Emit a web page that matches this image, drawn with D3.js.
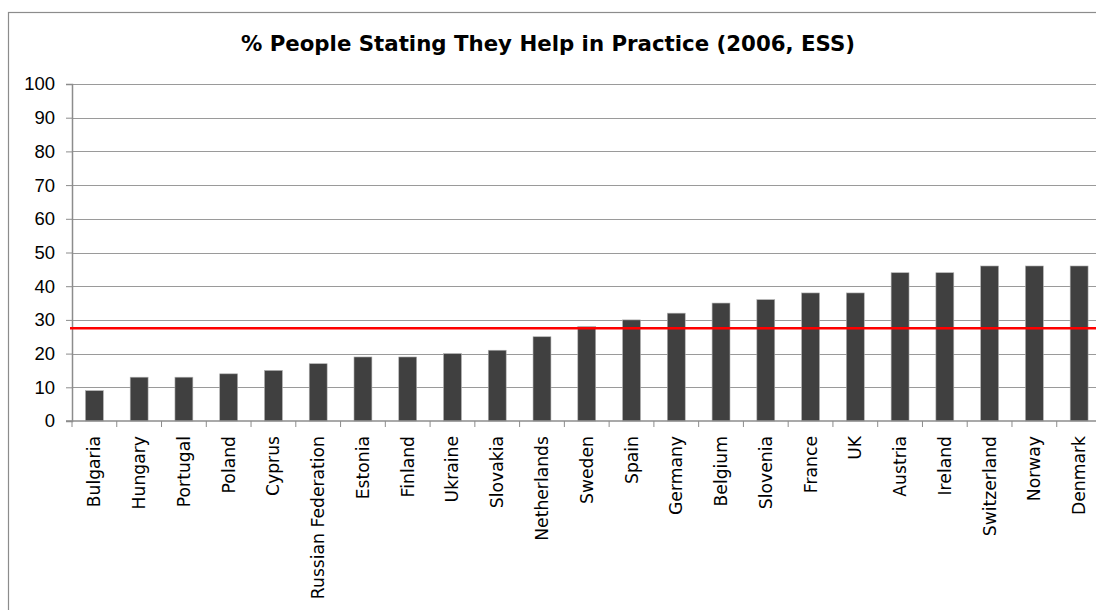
<!DOCTYPE html>
<html>
<head>
<meta charset="utf-8">
<script src="https://cdn.jsdelivr.net/npm/d3@7"></script>
<style>
  body { margin: 0; background: #fff; }
  svg { display: block; font-family: "DejaVu Sans", Verdana, sans-serif; }
</style>
</head>
<body>
<div id="chart_div"></div>
<script>
// data
const countries = ["Bulgaria", "Hungary", "Portugal", "Poland", "Cyprus", "Russian Federation",
    "Estonia", "Finland", "Ukraine", "Slovakia", "Netherlands", "Sweden", "Spain", "Germany",
    "Belgium", "Slovenia", "France", "UK", "Austria", "Ireland", "Switzerland", "Norway", "Denmark"];
const helpValues = [9, 13, 13, 14, 15, 17, 19, 19, 20, 21, 25, 28, 30, 32, 35, 36, 38, 38, 44, 44, 46, 46, 46];
const yTicks = [0, 10, 20, 30, 40, 50, 60, 70, 80, 90, 100];
const averageValue = 27.5;
const chartTitle = "% People Stating They Help in Practice (2006, ESS)";

const width = 1096, height = 610;
const margin = {top: 84, left: 72, right: -5.5, bottom: 189};
const plotW = width - margin.left - margin.right;
const plotH = height - margin.top - margin.bottom;

var svg = d3.select("#chart_div").append("svg")
    .attr("width", width)
    .attr("height", height);

// outer frame of the chart area
svg.append("rect")
    .attr("x", 8.5)
    .attr("y", 12.5)
    .attr("width", width + 10)
    .attr("height", height + 10)
    .attr("fill", "none")
    .attr("stroke", "#8c8c8c")
    .attr("stroke-width", 1.2);

svg.append("text")
    .attr("x", width / 2)
    .attr("y", 51)
    .attr("text-anchor", "middle")
    .style("font-size", "21.3px")
    .style("font-weight", "bold")
    .attr("fill", "#000")
    .text(chartTitle);

var g = svg.append("g").attr("transform", "translate(" + margin.left + "," + margin.top + ")");

var x = d3.scaleBand()
    .domain(countries)
    .range([0, plotW])
    .paddingInner(0.6)
    .paddingOuter(0.3);

var y = d3.scaleLinear()
    .domain([0, 100])
    .range([plotH, 0]);

// gridlines
g.append("g")
    .selectAll("line")
    .data(yTicks.slice(1))
    .enter()
    .append("line")
    .attr("x1", 0)
    .attr("x2", plotW)
    .attr("y1", d => Math.round(y(d)) + 0.5)
    .attr("y2", d => Math.round(y(d)) + 0.5)
    .attr("stroke", "#9a9a9a")
    .attr("stroke-width", 1);

// bars
g.append("g")
    .selectAll("rect")
    .data(helpValues)
    .enter()
    .append("rect")
    .attr("x", (d, i) => x(countries[i]))
    .attr("y", d => y(d))
    .attr("width", x.bandwidth())
    .attr("height", d => plotH - y(d))
    .attr("fill", "#404040")
    .attr("stroke", "#b0b0b0")
    .attr("stroke-width", 0.6);

// y axis
var yAxis = g.append("g")
    .call(d3.axisLeft(y).tickValues(yTicks).tickSize(6).tickPadding(11));
yAxis.selectAll("text").style("font-size", "18.5px").attr("fill", "#000");
yAxis.selectAll("line").attr("stroke", "#8c8c8c");
yAxis.select(".domain").attr("stroke", "#8c8c8c").attr("stroke-width", 1.5);

// x axis, ticks sit between the categories
var xAxis = g.append("g").attr("transform", "translate(0," + plotH + ")");
xAxis.append("line")
    .attr("x1", -6).attr("x2", plotW)
    .attr("stroke", "#8c8c8c").attr("stroke-width", 1.5);
xAxis.selectAll(".sep")
    .data(countries)
    .enter()
    .append("line")
    .attr("class", "sep")
    .attr("x1", (d, i) => i * x.step())
    .attr("x2", (d, i) => i * x.step())
    .attr("y1", 0).attr("y2", 6)
    .attr("stroke", "#8c8c8c");
xAxis.selectAll(".lbl")
    .data(countries)
    .enter()
    .append("text")
    .attr("class", "lbl")
    .attr("transform", d => "translate(" + (x(d) + x.bandwidth() / 2 + 6) + ",15) rotate(-90)")
    .attr("text-anchor", "end")
    .style("font-size", "17.2px")
    .attr("fill", "#000")
    .text(d => d);

// average line
g.append("line")
    .attr("x1", -2)
    .attr("x2", plotW)
    .attr("y1", y(averageValue))
    .attr("y2", y(averageValue))
    .attr("stroke", "#ff0000")
    .attr("stroke-width", 2.5);
</script>
</body>
</html>
